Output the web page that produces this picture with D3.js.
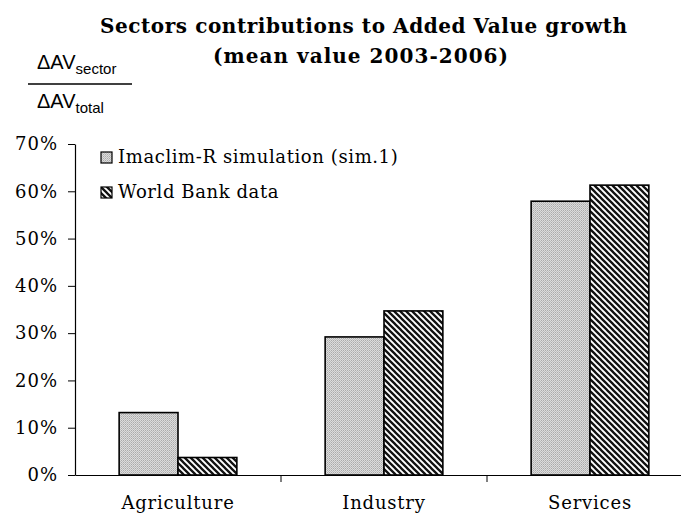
<!DOCTYPE html>
<meta charset="utf-8">
<style>
    body { margin: 0; background: #fff; }
    text { fill: #000; }
</style>
<script src="https://cdn.jsdelivr.net/npm/d3@7/dist/d3.min.js"></script>
<body>
<script>
var sectors = ["Agriculture", "Industry", "Services"];
var seriesNames = ["Imaclim-R simulation (sim.1)", "World Bank data"];
var simValues = [0.132, 0.292, 0.579];
var wbValues = [0.037, 0.347, 0.613];
var yTicks = [0, 0.1, 0.2, 0.3, 0.4, 0.5, 0.6, 0.7];

var width = 681, height = 516;
var margin = {left: 75, top: 144, right: -12, bottom: 41};
var serif = "'DejaVu Serif', serif";

var svg = d3.select("body").append("svg")
    .attr("width", width)
    .attr("height", height);

// fill patterns
var defs = svg.append("defs");
var dots = defs.append("pattern")
    .attr("id", "dots")
    .attr("patternUnits", "userSpaceOnUse")
    .attr("width", 2).attr("height", 2);
dots.append("rect").attr("width", 2).attr("height", 2).attr("fill", "#dcdcdc");
dots.append("rect").attr("width", 1).attr("height", 1).attr("fill", "#ababab");
dots.append("rect").attr("x", 1).attr("y", 1).attr("width", 1).attr("height", 1).attr("fill", "#bdbdbd");

var stripes = defs.append("pattern")
    .attr("id", "stripes")
    .attr("patternUnits", "userSpaceOnUse")
    .attr("width", 6).attr("height", 6);
stripes.append("rect").attr("width", 6).attr("height", 6).attr("fill", "#fff");
stripes.append("path")
    .attr("d", "M-1,-1L7,7M-4,2L2,8M4,-2L8,2")
    .attr("stroke", "#111")
    .attr("stroke-width", 2.3);

var x0 = d3.scaleBand()
    .domain(sectors)
    .range([margin.left, width - margin.right]);

var x1 = d3.scaleBand()
    .domain(seriesNames)
    .range([0, x0.bandwidth()])
    .paddingInner(0)
    .paddingOuter(0.75);

var y = d3.scaleLinear()
    .domain([0, 0.7])
    .range([height - margin.bottom, margin.top]);

// title
svg.append("text")
    .attr("x", 100).attr("y", 33)
    .attr("textLength", 527).attr("lengthAdjust", "spacing")
    .style("font-family", serif)
    .style("font-weight", "bold")
    .style("font-size", "20px")
    .text("Sectors contributions to Added Value growth");
svg.append("text")
    .attr("x", 213).attr("y", 63)
    .attr("textLength", 295).attr("lengthAdjust", "spacing")
    .style("font-family", serif)
    .style("font-weight", "bold")
    .style("font-size", "20px")
    .text("(mean value 2003-2006)");

// y-axis fraction label
var frac = svg.append("g").style("font-family", "'Liberation Sans', Arial, sans-serif");
var num = frac.append("text").attr("x", 37).attr("y", 69).style("font-size", "20px");
num.append("tspan").text("\u0394AV");
num.append("tspan").attr("dy", 5).style("font-size", "15px").text("sector");
frac.append("line")
    .attr("x1", 28).attr("x2", 132)
    .attr("y1", 84).attr("y2", 84)
    .attr("stroke", "#000").attr("stroke-width", 1.3);
var den = frac.append("text").attr("x", 37).attr("y", 108).style("font-size", "20px");
den.append("tspan").text("\u0394AV");
den.append("tspan").attr("dy", 5).style("font-size", "15px").text("total");

// bars
var groups = svg.selectAll(".sector")
    .data(sectors)
    .enter()
    .append("g")
    .attr("class", "sector")
    .attr("transform", function(d) { return "translate(" + x0(d) + ",0)"; });

groups.selectAll("rect")
    .data(function(d, i) {
        return [
            {series: seriesNames[0], value: simValues[i]},
            {series: seriesNames[1], value: wbValues[i]}
        ];
    })
    .enter()
    .append("rect")
    .attr("x", function(d) { return x1(d.series); })
    .attr("width", x1.bandwidth())
    .attr("y", function(d) { return y(d.value); })
    .attr("height", function(d) { return y(0) - y(d.value); })
    .attr("fill", function(d) { return d.series == seriesNames[0] ? "url(#dots)" : "url(#stripes)"; })
    .attr("stroke", "#000")
    .attr("stroke-width", 1.6);

// y axis
var yAxis = svg.append("g")
    .attr("transform", "translate(" + margin.left + ",0)")
    .call(d3.axisLeft(y).tickValues(yTicks).tickFormat(d3.format(".0%")).tickSize(7).tickSizeOuter(0));
yAxis.selectAll("text")
    .attr("x", -17)
    .style("font-family", serif)
    .style("font-size", "18px")
    .style("letter-spacing", "1px");

// x axis
var xAxis = svg.append("g")
    .attr("transform", "translate(0," + y(0) + ")")
    .call(d3.axisBottom(x0).tickSize(0).tickSizeOuter(0));
xAxis.selectAll("text")
    .attr("y", 21)
    .style("font-family", serif)
    .style("font-size", "18px")
    .style("letter-spacing", "0.8px");
xAxis.selectAll(".sep")
    .data(sectors.slice(1))
    .enter()
    .append("line")
    .attr("class", "sep")
    .attr("x1", function(d) { return x0(d); })
    .attr("x2", function(d) { return x0(d); })
    .attr("y1", 0).attr("y2", 7)
    .attr("stroke", "#000");
svg.selectAll(".domain").attr("stroke", "#000").attr("stroke-width", 1.2);

// legend
var legend = svg.selectAll(".legend")
    .data(seriesNames)
    .enter()
    .append("g")
    .attr("class", "legend")
    .attr("transform", function(d, i) { return "translate(101," + (152 + i * 35) + ")"; });
legend.append("rect")
    .attr("width", 11).attr("height", 11)
    .attr("fill", function(d, i) { return i == 0 ? "url(#dots)" : "url(#stripes)"; })
    .attr("stroke", "#000").attr("stroke-width", 1.2);
legend.append("text")
    .attr("x", 17).attr("y", 11)
    .style("font-family", serif)
    .style("font-size", "18px")
    .style("letter-spacing", "0.6px")
    .text(function(d) { return d; });
</script>
</body>
